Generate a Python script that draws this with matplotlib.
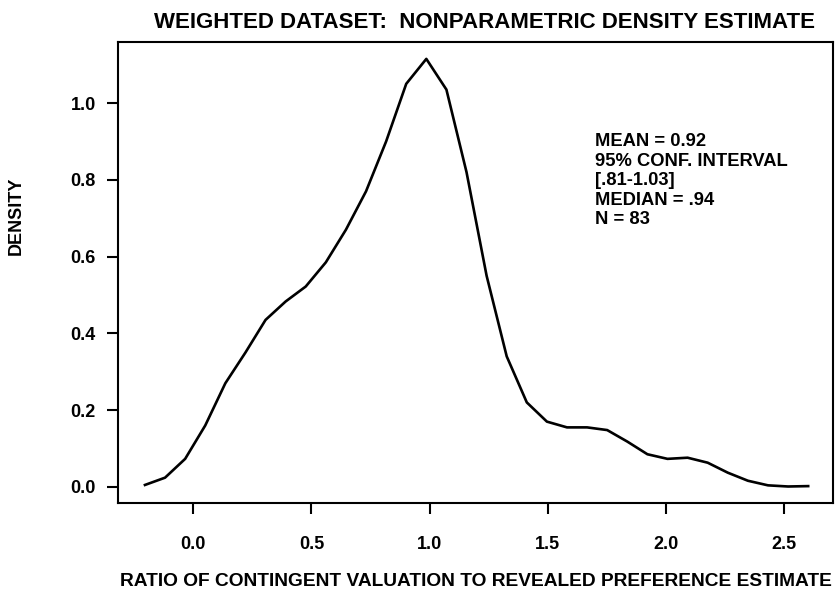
import matplotlib
matplotlib.use('Agg')
import matplotlib.pyplot as plt

# density curve
ratio = [-0.204, -0.119, -0.034, 0.051, 0.136, 0.221, 0.306, 0.391, 0.476, 0.561,
         0.646, 0.731, 0.816, 0.901, 0.986, 1.071, 1.156, 1.241, 1.326, 1.411,
         1.496, 1.581, 1.666, 1.751, 1.836, 1.921, 2.006, 2.091, 2.176, 2.261,
         2.346, 2.431, 2.516, 2.601]
density = [0.005, 0.024, 0.073, 0.16, 0.27, 0.35, 0.435, 0.483, 0.522, 0.585,
           0.67, 0.77, 0.90, 1.05, 1.115, 1.035, 0.82, 0.55, 0.34, 0.22,
           0.17, 0.155, 0.155, 0.148, 0.118, 0.085, 0.073, 0.076, 0.063, 0.037,
           0.016, 0.004, 0.001, 0.002]

xticks = [0.0, 0.5, 1.0, 1.5, 2.0, 2.5]
yticks = [0.0, 0.2, 0.4, 0.6, 0.8, 1.0]
stats = ['MEAN = 0.92', '95% CONF. INTERVAL', '[.81-1.03]', 'MEDIAN = .94', 'N = 83']

plt.rcParams['font.family'] = ['Liberation Sans', 'DejaVu Sans']

fig = plt.figure(figsize=(8.35, 5.94), dpi=100)
ax = fig.add_axes([118/835, 1-503/594, (833-118)/835, (503-42)/594])

ax.plot(ratio, density, color='black', lw=1.9)

ax.set_xlim(-0.318, 2.706)
ax.set_ylim(-0.042, 1.159)
ax.set_xticks(xticks)
ax.set_xticklabels(['%.1f' % t for t in xticks], fontsize=13, fontweight='bold')
ax.set_yticks(yticks)
ax.set_yticklabels(['%.1f' % t for t in yticks], fontsize=13, fontweight='bold')
ax.tick_params(axis='x', length=8, width=1.5, pad=16)
ax.tick_params(axis='y', length=8, width=1.5, pad=8)
for s in ax.spines.values():
    s.set_linewidth(1.5)

ax.text(595/835, 1-133/594, '\n'.join(stats), transform=fig.transFigure,
        fontsize=13.2, fontweight='bold', va='top', ha='left', linespacing=1.2)

fig.text(484/835, 1-23/594, 'WEIGHTED DATASET:  NONPARAMETRIC DENSITY ESTIMATE',
         ha='center', va='center', fontsize=16, fontweight='bold')
fig.text(16/835, 1-216/594, 'DENSITY', rotation=90, ha='center', va='center',
         fontsize=13, fontweight='bold')
fig.text(476/835, 1-582/594, 'RATIO OF CONTINGENT VALUATION TO REVEALED PREFERENCE ESTIMATE',
         ha='center', va='center', fontsize=13.8, fontweight='bold')

fig.savefig('out.png', dpi=100)
